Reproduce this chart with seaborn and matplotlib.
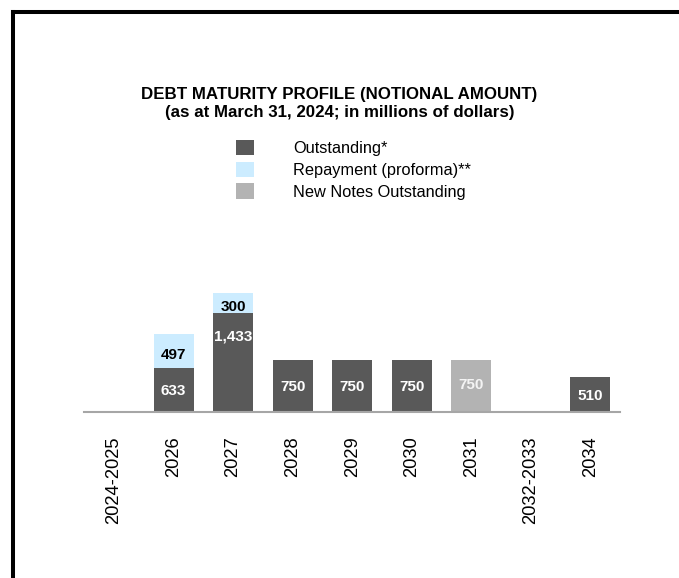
import matplotlib
matplotlib.use("Agg")
import matplotlib.pyplot as plt
from matplotlib.lines import Line2D
from matplotlib.patches import Patch
import numpy as np
import pandas as pd
import seaborn as sns

# Maturity buckets and notional amounts (millions of dollars)
categories = ["2024-2025", "2026", "2027", "2028", "2029", "2030", "2031", "2032-2033", "2034"]
outstanding = [0, 633, 1433, 750, 750, 750, 0, 0, 510]
repayment = [0, 497, 300, 0, 0, 0, 0, 0, 0]
new_notes = [0, 0, 0, 0, 0, 0, 750, 0, 0]

legend_labels = ["Outstanding*", "Repayment (proforma)**", "New Notes Outstanding"]
title_lines = ["DEBT MATURITY PROFILE (NOTIONAL AMOUNT)",
               "(as at March 31, 2024; in millions of dollars)"]

DARK = "#595959"
BLUE = "#CCECFF"
GREY = "#B3B3B3"
AXIS = "#A6A6A6"

sns.set_style("white")
plt.rcParams["font.family"] = ["Liberation Sans", "DejaVu Sans"]
plt.rcParams["text.color"] = "black"
plt.rcParams["xtick.color"] = "black"

df = pd.DataFrame({
    "bucket": categories,
    "outstanding": outstanding,
    "repayment": repayment,
    "new_notes": new_notes,
})
df["stack_top"] = df["outstanding"] + df["repayment"]

W, H = 679, 578
fig = plt.figure(figsize=(W / 100, H / 100), dpi=100)
ax = fig.add_axes([84.3 / W, 166.3 / H, 535.7 / W, 131.7 / H])

bar_w = 0.67
# full stacks first (repayment shows above the outstanding part)
sns.barplot(data=df, x="bucket", y="stack_top", order=categories, color=BLUE,
            width=bar_w, saturation=1, ax=ax, linewidth=0)
sns.barplot(data=df, x="bucket", y="outstanding", order=categories, color=DARK,
            width=bar_w, saturation=1, ax=ax, linewidth=0)
sns.barplot(data=df, x="bucket", y="new_notes", order=categories, color=GREY,
            width=bar_w, saturation=1, ax=ax, linewidth=0)

ax.set_xlim(-0.5, len(categories) - 0.5)
ax.set_ylim(0, 1920)
ax.set_xlabel("")
ax.set_ylabel("")
ax.set_yticks([])
for side in ["top", "left", "right"]:
    ax.spines[side].set_visible(False)
ax.spines["bottom"].set_color(AXIS)
ax.spines["bottom"].set_linewidth(1.5)
ax.tick_params(axis="x", length=0, pad=18.0, labelsize=13.2, labelcolor="black")
for lbl in ax.get_xticklabels():
    lbl.set_rotation(90)
    lbl.set_va("top")
    lbl.set_ha("center")

lab_kw = dict(ha="center", va="center", fontsize=11, fontweight="bold")
for i, (o, r, n) in enumerate(zip(outstanding, repayment, new_notes)):
    if o > 0:
        if o > 1200:
            ax.annotate(f"{o:,}", (i, o), xytext=(0, -16.5), textcoords="offset points",
                        color="white", **lab_kw)
        else:
            ax.annotate(f"{o:,}", (i, o / 2), xytext=(0, -1), textcoords="offset points",
                        color="white", **lab_kw)
    if r > 0:
        ax.annotate(f"{r:,}", (i, o + r / 2), xytext=(0, -2.5), textcoords="offset points",
                    color="black", **lab_kw)
    if n > 0:
        ax.annotate(f"{n:,}", (i, n / 2), xytext=(0, 1), textcoords="offset points",
                    color="#F4F4F4", **lab_kw)

# title
fig.text(0.5, 1 - 94 / H, title_lines[0], ha="center", va="center",
         fontsize=12.2, fontweight="bold", color="black")
fig.text(0.5, 1 - 113 / H, title_lines[1], ha="center", va="center",
         fontsize=12.2, fontweight="bold", color="black")

# legend
handles = [Patch(facecolor=c, edgecolor="none") for c in (DARK, BLUE, GREY)]
leg = fig.legend(handles, legend_labels, loc="upper left",
                 bbox_to_anchor=(236 / W, 1 - 140 / H), frameon=False,
                 fontsize=11.8, handlelength=1.1, handleheight=1.07,
                 handletextpad=2.4, labelspacing=0.33, borderpad=0, borderaxespad=0)
for t in leg.get_texts():
    t.set_color("black")

# black frame along the left and top edges
fig.add_artist(Line2D([13 / W, 13 / W], [1 - 12 / H, 0], transform=fig.transFigure,
                      color="black", linewidth=2.9, solid_capstyle="projecting"))
fig.add_artist(Line2D([13 / W, 1], [1 - 12 / H, 1 - 12 / H], transform=fig.transFigure,
                      color="black", linewidth=2.9, solid_capstyle="projecting"))

fig.savefig("out.png", dpi=100, facecolor="white")
